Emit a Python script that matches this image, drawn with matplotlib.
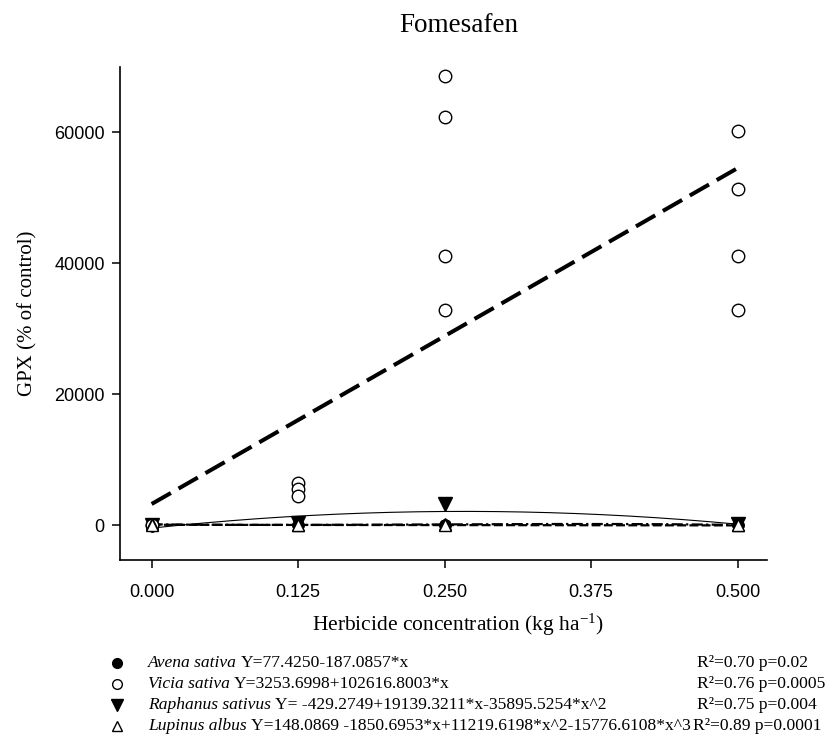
import numpy as np
import matplotlib
matplotlib.use("Agg")
import matplotlib.pyplot as plt

plt.rcParams["font.family"] = "Liberation Serif"
plt.rcParams["mathtext.fontset"] = "custom"
plt.rcParams["mathtext.rm"] = "Liberation Serif"
plt.rcParams["mathtext.it"] = "Liberation Serif:italic"

'''Data read off the figure'''
doses = [0.0, 0.125, 0.25, 0.5]

avena_x = [0.0, 0.0, 0.125, 0.125, 0.25, 0.25, 0.5, 0.5]
avena_y = [100, 90, 60, 50, 40, 30, 10, 0]

vicia_x = [0.0, 0.0, 0.125, 0.125, 0.125, 0.25, 0.25, 0.25, 0.25, 0.5, 0.5, 0.5, 0.5]
vicia_y = [100, 100, 6400, 5500, 4400, 68700, 62400, 41100, 32900, 60300, 51400, 41100, 32900]

raphanus_x = [0.0, 0.125, 0.25, 0.5]
raphanus_y = [100, 300, 3200, 150]

lupinus_x = [0.0, 0.0, 0.125, 0.125, 0.25, 0.25, 0.5, 0.5]
lupinus_y = [150, 100, 120, 80, 150, 100, 60, 40]

# regression coefficients (highest power first, for np.polyval)
avena_coef = [-187.0857, 77.4250]
vicia_coef = [102616.8003, 3253.6998]
raphanus_coef = [-35895.5254, 19139.3211, -429.2749]
lupinus_coef = [-15776.6108, 11219.6198, -1850.6953, 148.0869]

species = ["Avena sativa", "Vicia sativa", "Raphanus sativus", "Lupinus albus"]
equations = [
    "Y=77.4250-187.0857*x",
    "Y=3253.6998+102616.8003*x",
    "Y= -429.2749+19139.3211*x-35895.5254*x^2",
    "Y=148.0869 -1850.6953*x+11219.6198*x^2-15776.6108*x^3",
]
stats = [
    "R\u00b2=0.70 p=0.02",
    "R\u00b2=0.76 p=0.0005",
    "R\u00b2=0.75 p=0.004",
    "R\u00b2=0.89 p=0.0001",
]

xticks = [0.0, 0.125, 0.25, 0.375, 0.5]
yticks = [0, 20000, 40000, 60000]


def main():
    W, H = 835, 746
    fig = plt.figure(figsize=(W / 100, H / 100), dpi=100)
    ax = fig.add_axes([120 / W, 1 - 560 / H, (767 - 120) / W, (560 - 67) / H])

    xs = np.linspace(0, 0.5, 200)

    # fitted curves
    ax.plot(xs, np.polyval(vicia_coef, xs), color="black", lw=2.9,
            dashes=(5.5, 2.2), zorder=2)
    ax.plot(xs, np.polyval(raphanus_coef, xs), color="black", lw=0.8, zorder=2)
    ax.plot(xs, np.polyval(lupinus_coef, xs), color="black", lw=1.6,
            dashes=(5, 1.5, 1, 1.5), zorder=2)
    ax.plot(xs, np.polyval(avena_coef, xs), color="black", lw=1.6,
            dashes=(4, 1.5), zorder=2)

    # observations
    ax.plot(avena_x, avena_y, "o", ms=8, color="black", zorder=3)
    ax.plot(vicia_x, vicia_y, "o", ms=9, mfc="white", mec="black", mew=1.0, zorder=4)
    ax.plot(raphanus_x, raphanus_y, "v", ms=10, color="black", zorder=3)
    ax.plot(lupinus_x, lupinus_y, "^", ms=9, mfc="white", mec="black", mew=1.0, zorder=5)

    ax.set_xlim(-0.027, 0.525)
    ax.set_ylim(-5300, 70000)
    ax.set_xticks(xticks)
    ax.set_xticklabels(["%.3f" % t for t in xticks])
    ax.set_yticks(yticks)
    ax.set_yticklabels([str(t) for t in yticks])
    for lab in ax.get_xticklabels() + ax.get_yticklabels():
        lab.set_family("Liberation Sans")
        lab.set_fontsize(13)
    ax.tick_params(direction="out", length=6, width=1.1, pad=11)
    ax.tick_params(axis="y", pad=5)
    ax.spines["top"].set_visible(False)
    ax.spines["right"].set_visible(False)
    ax.spines["left"].set_linewidth(1.2)
    ax.spines["bottom"].set_linewidth(1.2)

    ax.set_xlabel(r"Herbicide concentration (kg ha$^{\mathregular{-1}}$)", fontsize=15.5)
    ax.xaxis.set_label_coords((458 - 120) / (767 - 120), -(625 - 560) / (560 - 67))
    ax.xaxis.label.set_va("center")
    ax.set_ylabel("GPX (% of control)", fontsize=15, labelpad=12)
    fig.text(459 / W, 1 - 26 / H, "Fomesafen", fontsize=19.5, ha="center", va="center")

    # legend below the axes
    rows_y = [663, 684, 705, 726]
    markers = [
        dict(marker="o", ms=7, mfc="black", mec="black"),
        dict(marker="o", ms=7, mfc="white", mec="black", mew=1.0),
        dict(marker="v", ms=8, mfc="black", mec="black"),
        dict(marker="^", ms=7, mfc="white", mec="black", mew=1.0),
    ]
    for i in range(4):
        yf = 1 - rows_y[i] / H
        fig.add_artist(plt.Line2D([117 / W], [yf], linestyle="none", **markers[i]))
        t1 = fig.text(148 / W, yf, species[i], fontsize=12.6, style="italic",
                      ha="left", va="center")
        t2 = ax.annotate(equations[i], xy=(1, 0), xycoords=t1, xytext=(3, 0),
                         textcoords="offset points", fontsize=12.6, ha="left",
                         va="bottom", annotation_clip=False)
        if i < 3:
            fig.text(697 / W, yf, stats[i], fontsize=12.6, ha="left", va="center")
        else:
            # last row: statistics follow straight after the long equation
            ax.annotate(stats[i], xy=(1, 0), xycoords=t2, xytext=(2, 0),
                        textcoords="offset points", fontsize=12.6, ha="left",
                        va="bottom", annotation_clip=False)

    fig.savefig("out.png", dpi=100)


main()
